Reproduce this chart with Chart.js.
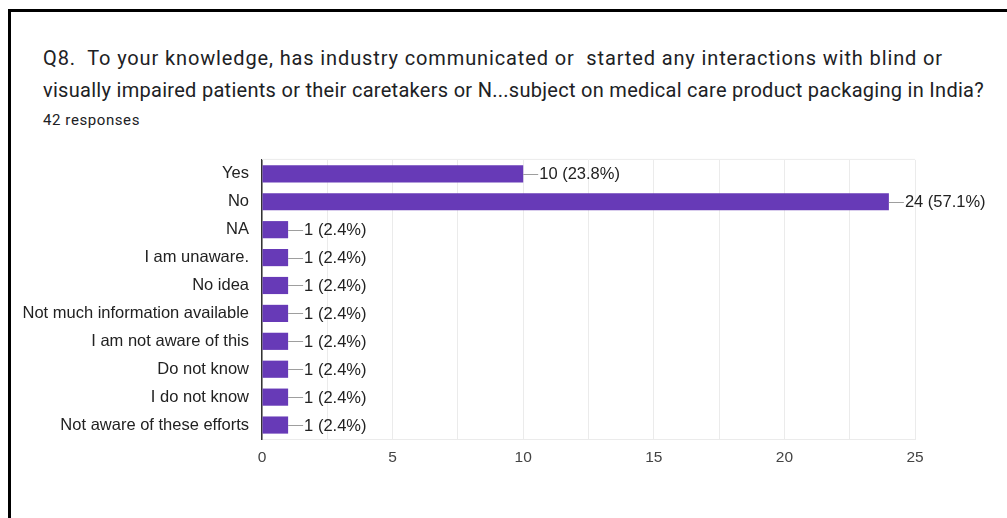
<!DOCTYPE html>
<html>
<head>
<meta charset="utf-8">
<script src="https://cdn.jsdelivr.net/npm/chart.js@4.4.1/dist/chart.umd.min.js"></script>
<style>
  body { margin: 0; background: #fff; width: 1007px; height: 518px; overflow: hidden; position: relative; }
  #frame { position: absolute; left: 8px; top: 9px; width: 1100px; height: 600px;
           border-top: 3px solid #000; border-left: 3px solid #000; }
  #question { position: absolute; left: 43px; top: 42px; white-space: nowrap;
              font-family: Roboto, sans-serif; font-size: 20px; line-height: 32px; color: #202124; }
  #question span, #count span { display: inline-block; }
  #count { position: absolute; left: 43px; top: 111px; white-space: nowrap;
           font-family: Roboto, sans-serif; font-size: 15px; color: #202124; }
  #wrap { position: absolute; left: 0; top: 137px; width: 1007px; height: 340px; }
</style>
</head>
<body>
<div id="frame"></div>
<div id="question"><span data-w="900">Q8.&nbsp; To your knowledge, has industry communicated or&nbsp; started any interactions with blind or</span><br><span data-w="941">visually impaired patients or their caretakers or N...subject on medical care product packaging in India?</span></div>
<div id="count"><span data-w="97">42 responses</span></div>
<div id="wrap"><canvas id="myChart" width="1007" height="340"></canvas></div>
<script>
var answers = ["Yes", "No", "NA", "I am unaware.", "No idea", "Not much information available",
               "I am not aware of this", "Do not know", "I do not know", "Not aware of these efforts"];
var counts = [10, 24, 1, 1, 1, 1, 1, 1, 1, 1];
var totalResponses = 42;
var axisTicks = [0, 5, 10, 15, 20, 25];

// spread each heading line out to its set width
document.querySelectorAll('span[data-w]').forEach(function(el) {
  var natural = el.getBoundingClientRect().width;
  var n = el.textContent.length;
  el.style.letterSpacing = ((+el.dataset.w - natural) / n) + 'px';
});

// short leader line plus "n (p%)" after each bar
var valueLabels = {
  id: 'valueLabels',
  afterDatasetsDraw: function(chart) {
    var ctx = chart.ctx;
    var meta = chart.getDatasetMeta(0);
    ctx.save();
    ctx.font = '16.5px "Liberation Sans", Arial, sans-serif';
    ctx.textBaseline = 'middle';
    meta.data.forEach(function(bar, i) {
      var pct = (counts[i] / totalResponses * 100).toFixed(1);
      ctx.strokeStyle = '#9e9e9e';
      ctx.lineWidth = 1;
      ctx.beginPath();
      ctx.moveTo(bar.x, Math.round(bar.y) + 0.5);
      ctx.lineTo(bar.x + 15, Math.round(bar.y) + 0.5);
      ctx.stroke();
      ctx.fillStyle = '#222';
      ctx.fillText(counts[i] + ' (' + pct + '%)', bar.x + 16, bar.y + 1);
    });
    ctx.restore();
  }
};

// faint line along the top of the plot area
var topEdge = {
  id: 'topEdge',
  beforeDatasetsDraw: function(chart) {
    var a = chart.chartArea, ctx = chart.ctx;
    ctx.save();
    ctx.strokeStyle = '#ebebeb';
    ctx.lineWidth = 1;
    ctx.beginPath();
    ctx.moveTo(a.left, a.top - 0.5);
    ctx.lineTo(a.right, a.top - 0.5);
    ctx.stroke();
    ctx.restore();
  }
};

var ctx = document.getElementById('myChart').getContext('2d');
var chart = new Chart(ctx, {
  type: 'bar',
  data: {
    labels: answers,
    datasets: [{
      data: counts,
      backgroundColor: '#673ab7',
      borderWidth: 0,
      barPercentage: 0.75,
      categoryPercentage: 0.82
    }]
  },
  options: {
    indexAxis: 'y',
    responsive: false,
    animation: false,
    layout: { padding: { left: 0, right: 92, top: 13, bottom: 0 } },
    plugins: { legend: { display: false }, tooltip: { enabled: false } },
    scales: {
      x: {
        min: 0,
        max: 25,
        afterFit: function(scale) { scale.height = 38; },
        afterBuildTicks: function(scale) {
          var t = [];
          for (var v = 0; v <= 25; v += 2.5) t.push({ value: v });
          scale.ticks = t;
        },
        ticks: {
          padding: 9,
          autoSkip: false,
          maxRotation: 0,
          color: '#444',
          font: { family: '"Liberation Sans", Arial, sans-serif', size: 15.5 },
          callback: function(v) { return axisTicks.indexOf(v) >= 0 ? v : ''; }
        },
        grid: { color: '#ebebeb', drawTicks: false },
        border: { color: '#ebebeb' }
      },
      y: {
        afterFit: function(scale) { scale.width = 262; },
        ticks: {
          padding: 13,
          autoSkip: false,
          color: '#222',
          font: { family: '"Liberation Sans", Arial, sans-serif', size: 16.5 }
        },
        grid: { display: false, drawTicks: false },
        border: { color: '#333', width: 1.5 }
      }
    }
  },
  plugins: [topEdge, valueLabels]
});
</script>
</body>
</html>
